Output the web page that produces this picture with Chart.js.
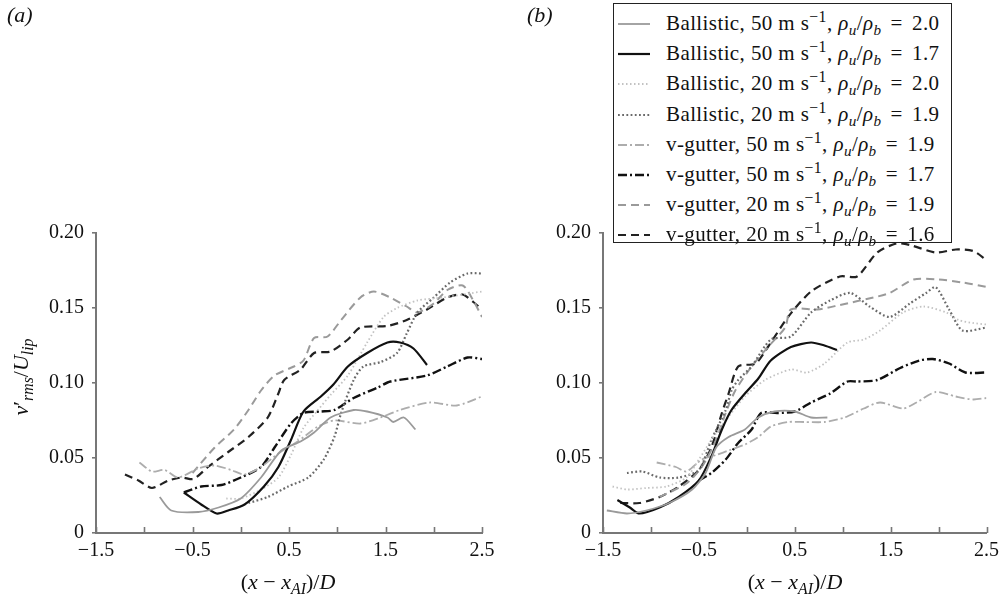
<!DOCTYPE html>
<html>
<head>
<meta charset="utf-8">
<script src="https://cdn.jsdelivr.net/npm/chart.js@4.4.1/dist/chart.umd.min.js"></script>
<style>
  body { margin: 0; background: #fff; font-family: "Liberation Serif", "Times New Roman", serif; }
  #page { position: relative; width: 1005px; height: 597px; overflow: hidden; }
  canvas { position: absolute; top: 0; }
  .lbl { position: absolute; font-family: "Liberation Serif", "Times New Roman", serif; color: #111; white-space: nowrap; }
  .lbl sub, #legend sub { font-size: 0.72em; vertical-align: -0.3em; line-height: 0; }
  .lbl sup, #legend sup { font-size: 0.75em; vertical-align: 0.5em; line-height: 0; }
  #legend { position: absolute; left: 613px; top: 3px; width: 337px; height: 238px; border: 1px solid #222;
            background: #fff; font-family: "Liberation Serif", "Times New Roman", serif; font-size: 21px;
            letter-spacing: 0.4px; color: #111; z-index: 5; }
  #legend .row { position: absolute; left: 0; height: 30px; line-height: 30px; white-space: nowrap; }
  #legend svg { position: absolute; left: 4px; top: 14px; }
  #legend span.t { position: absolute; left: 52px; top: 0; }
</style>
</head>
<body>
<div id="page">
  <canvas id="chartA" width="510" height="597" style="left:0px"></canvas>
  <canvas id="chartB" width="495" height="597" style="left:510px"></canvas>
  <div id="legend"></div>
  <div class="lbl" style="left:7px;top:2px;font-size:22px;"><i>(a)</i></div>
  <div class="lbl" style="left:527px;top:2px;font-size:22px;"><i>(b)</i></div>
  <div class="lbl" style="left:21px;top:377px;font-size:22px;transform:translate(-50%,-50%) rotate(-90deg);"><i>v</i>&prime;<sub><i>rms</i></sub>/<i>U</i><sub><i>lip</i></sub></div>
  <div class="lbl" style="left:288px;top:582px;font-size:22px;transform:translate(-50%,-50%);">(<i>x</i> &minus; <i>x</i><sub><i>AI</i></sub>)/<i>D</i></div>
  <div class="lbl" style="left:795px;top:582px;font-size:22px;transform:translate(-50%,-50%);">(<i>x</i> &minus; <i>x</i><sub><i>AI</i></sub>)/<i>D</i></div>
</div>
<script>
// series description (legend order)
const kinds = ["Ballistic", "Ballistic", "Ballistic", "Ballistic", "v-gutter", "v-gutter", "v-gutter", "v-gutter"];
const speeds = [50, 50, 20, 20, 50, 50, 20, 20];
const ratios = ["2.0", "1.7", "2.0", "1.9", "1.9", "1.7", "1.9", "1.6"];

const xTicks = [-1.5, -0.5, 0.5, 1.5, 2.5];
const yTicks = [0, 0.05, 0.10, 0.15, 0.20];

// panel (a): [x, y] pairs
const aBal50_20 = [[-0.84,0.024],[-0.72,0.015],[-0.44,0.014],[-0.23,0.017],[0.0,0.023],[0.21,0.037],[0.42,0.055],[0.62,0.061],[0.76,0.067],[0.93,0.077],[1.17,0.082],[1.31,0.081],[1.52,0.077],[1.58,0.074],[1.69,0.077],[1.81,0.069]];
const aBal50_17 = [[-0.59,0.027],[-0.41,0.019],[-0.25,0.013],[-0.13,0.015],[0.04,0.019],[0.24,0.031],[0.39,0.044],[0.52,0.062],[0.65,0.081],[0.83,0.091],[0.96,0.099],[1.11,0.111],[1.31,0.120],[1.52,0.127],[1.65,0.127],[1.79,0.123],[1.93,0.112]];
const aBal20_20 = [[-0.15,0.023],[0.0,0.023],[0.21,0.029],[0.39,0.037],[0.52,0.052],[0.65,0.070],[0.80,0.082],[0.93,0.092],[1.11,0.105],[1.31,0.127],[1.48,0.144],[1.62,0.150],[1.83,0.155],[2.1,0.157],[2.5,0.161]];
const aBal20_19 = [[0.08,0.020],[0.28,0.024],[0.49,0.031],[0.70,0.037],[0.86,0.049],[0.97,0.064],[1.04,0.080],[1.17,0.102],[1.27,0.111],[1.45,0.114],[1.62,0.120],[1.72,0.133],[1.83,0.147],[2.0,0.157],[2.17,0.167],[2.35,0.173],[2.5,0.173]];
const aVg50_19 = [[-1.05,0.047],[-0.92,0.041],[-0.79,0.042],[-0.65,0.037],[-0.44,0.043],[-0.27,0.045],[-0.1,0.042],[0.04,0.039],[0.21,0.044],[0.39,0.053],[0.59,0.061],[0.80,0.071],[0.97,0.075],[1.24,0.073],[1.45,0.077],[1.65,0.082],[1.96,0.087],[2.24,0.085],[2.5,0.091]];
const aVg50_17 = [[-0.59,0.027],[-0.41,0.031],[-0.2,0.032],[0.0,0.037],[0.21,0.044],[0.35,0.057],[0.52,0.073],[0.65,0.080],[0.83,0.081],[0.97,0.082],[1.17,0.090],[1.42,0.097],[1.55,0.101],[1.93,0.105],[2.14,0.111],[2.35,0.117],[2.5,0.116]];
const aVg20_19 = [[-0.5,0.040],[-0.27,0.057],[-0.07,0.069],[0.08,0.082],[0.21,0.095],[0.35,0.105],[0.55,0.111],[0.65,0.115],[0.76,0.130],[0.90,0.131],[1.04,0.142],[1.24,0.157],[1.38,0.161],[1.55,0.157],[1.72,0.151],[1.83,0.147],[2.0,0.153],[2.14,0.162],[2.3,0.165],[2.41,0.155],[2.5,0.144]];
const aVg20_16 = [[-1.2,0.039],[-1.06,0.035],[-0.92,0.030],[-0.75,0.035],[-0.61,0.037],[-0.49,0.036],[-0.34,0.044],[-0.13,0.054],[0.08,0.064],[0.28,0.077],[0.39,0.093],[0.45,0.102],[0.62,0.109],[0.76,0.120],[0.93,0.121],[1.11,0.129],[1.24,0.137],[1.52,0.138],[1.72,0.142],[1.93,0.149],[2.14,0.157],[2.3,0.159],[2.41,0.154],[2.5,0.149]];

// panel (b)
const bBal50_20 = [[-1.46,0.015],[-1.25,0.013],[-1.05,0.015],[-0.81,0.020],[-0.57,0.029],[-0.43,0.040],[-0.32,0.057],[-0.19,0.064],[-0.02,0.069],[0.12,0.077],[0.29,0.081],[0.5,0.081],[0.67,0.077],[0.84,0.077]];
const bBal50_17 = [[-1.35,0.022],[-1.22,0.017],[-1.12,0.013],[-0.91,0.017],[-0.71,0.024],[-0.5,0.035],[-0.37,0.051],[-0.26,0.069],[-0.16,0.082],[-0.02,0.093],[0.12,0.103],[0.25,0.115],[0.46,0.124],[0.67,0.127],[0.81,0.125],[0.94,0.122]];
const bBal20_20 = [[-1.40,0.031],[-1.25,0.029],[-1.05,0.030],[-0.84,0.031],[-0.63,0.037],[-0.5,0.049],[-0.37,0.062],[-0.22,0.075],[-0.02,0.091],[0.19,0.102],[0.46,0.109],[0.63,0.107],[0.81,0.113],[1.05,0.127],[1.22,0.129],[1.39,0.135],[1.63,0.147],[1.84,0.151],[2.08,0.147],[2.21,0.142],[2.36,0.140],[2.5,0.139]];
const bBal20_19 = [[-1.25,0.040],[-1.09,0.041],[-0.91,0.037],[-0.71,0.037],[-0.5,0.042],[-0.37,0.062],[-0.22,0.082],[-0.16,0.095],[-0.09,0.102],[0.05,0.111],[0.25,0.129],[0.46,0.131],[0.67,0.147],[0.87,0.155],[1.08,0.160],[1.28,0.151],[1.49,0.144],[1.70,0.153],[1.87,0.160],[1.97,0.164],[2.11,0.149],[2.25,0.135],[2.5,0.137]];
const bVg50_19 = [[-0.94,0.047],[-0.74,0.044],[-0.63,0.041],[-0.47,0.049],[-0.32,0.052],[-0.19,0.055],[-0.02,0.059],[0.12,0.064],[0.25,0.071],[0.43,0.074],[0.6,0.074],[0.81,0.074],[1.02,0.077],[1.22,0.083],[1.39,0.087],[1.63,0.083],[1.77,0.087],[1.97,0.094],[2.18,0.091],[2.36,0.089],[2.5,0.090]];
const bVg50_17 = [[-0.5,0.035],[-0.37,0.040],[-0.22,0.049],[-0.09,0.060],[0.05,0.069],[0.15,0.080],[0.32,0.080],[0.5,0.081],[0.67,0.087],[0.87,0.093],[1.05,0.101],[1.15,0.101],[1.36,0.102],[1.6,0.110],[1.8,0.115],[1.94,0.116],[2.11,0.113],[2.28,0.107],[2.5,0.107]];
const bVg20_19 = [[-0.91,0.024],[-0.63,0.033],[-0.47,0.044],[-0.32,0.062],[-0.22,0.080],[-0.12,0.095],[0.05,0.111],[0.22,0.124],[0.4,0.137],[0.46,0.149],[0.74,0.149],[0.97,0.152],[1.32,0.157],[1.49,0.160],[1.74,0.169],[2.0,0.169],[2.25,0.167],[2.5,0.164]];
const bVg20_16 = [[-1.32,0.020],[-1.12,0.020],[-0.91,0.024],[-0.71,0.031],[-0.5,0.042],[-0.37,0.057],[-0.26,0.080],[-0.19,0.093],[-0.09,0.111],[0.09,0.113],[0.22,0.124],[0.43,0.144],[0.67,0.161],[0.97,0.171],[1.15,0.171],[1.36,0.187],[1.56,0.193],[1.70,0.192],[1.97,0.187],[2.18,0.189],[2.36,0.188],[2.5,0.182]];

const panelA = [aBal50_20, aBal50_17, aBal20_20, aBal20_19, aVg50_19, aVg50_17, aVg20_19, aVg20_16];
const panelB = [bBal50_20, bBal50_17, bBal20_20, bBal20_19, bVg50_19, bVg50_17, bVg20_19, bVg20_16];

// line looks, same order as the legend
const colors = ["#9a9a9a", "#111111", "#c2c2c2", "#6a6a6a", "#adadad", "#111111", "#9a9a9a", "#222222"];
const widths = [1.8, 2.2, 1.8, 2.2, 1.8, 2.4, 2.0, 2.2];
const dashes = [[], [], [1.5, 2.5], [1.8, 2.4], [9, 3, 2, 3], [9, 3, 2, 3], [8, 5], [8, 5]];

const serif = "'Liberation Serif', 'Times New Roman', serif";
const fmt = v => (v < 0 ? "\u2212" : "") + Math.abs(v);

// inward tick marks on the x axis
const innerTicks = {
    id: "innerTicks",
    afterDraw(chart) {
        const sx = chart.scales.x;
        const c = chart.ctx;
        const bottom = chart.chartArea.bottom;
        c.save();
        c.strokeStyle = "#777";
        c.lineWidth = 1.6;
        sx.ticks.forEach(t => {
            const px = Math.round(sx.getPixelForValue(t.value)) + 0.5;
            c.beginPath();
            c.moveTo(px, bottom);
            c.lineTo(px, bottom - 6);
            c.stroke();
        });
        c.restore();
    }
};

function makeChart(id, series, padLeft, padRight) {
    const datasets = series.map((pts, i) => ({
        data: pts.map(p => ({x: p[0], y: p[1]})),
        borderColor: colors[i],
        borderWidth: widths[i],
        borderDash: dashes[i],
        pointRadius: 0,
        tension: 0.25,
        fill: false
    }));
    return new Chart(document.getElementById(id), {
        type: "line",
        data: {datasets},
        plugins: [innerTicks],
        options: {
            responsive: false,
            animation: false,
            events: [],
            layout: {padding: {left: padLeft, right: padRight, top: 233, bottom: 24}},
            plugins: {legend: {display: false}, tooltip: {enabled: false}},
            scales: {
                x: {
                    type: "linear", min: -1.5, max: 2.5,
                    afterFit(s) { s.height = 40; },
                    afterBuildTicks(s) {
                        s.ticks = [-1.5, -1, -0.5, 0, 0.5, 1, 1.5, 2, 2.5].map(v => ({value: v}));
                    },
                    border: {display: true, color: "#777", width: 2},
                    grid: {display: false, drawTicks: false},
                    ticks: {
                        padding: 6, color: "#111", maxRotation: 0, autoSkip: false,
                        font: {family: serif, size: 20},
                        callback: v => xTicks.includes(v) ? fmt(v) : ""
                    }
                },
                y: {
                    type: "linear", min: 0, max: 0.2,
                    afterFit(s) { s.width = 62; },
                    afterBuildTicks(s) { s.ticks = yTicks.map(v => ({value: v})); },
                    border: {display: true, color: "#777", width: 2},
                    grid: {drawOnChartArea: false, drawTicks: true, tickLength: 4, color: "#777", lineWidth: 1.6},
                    ticks: {
                        padding: 8, color: "#111",
                        font: {family: serif, size: 20},
                        callback: v => v === 0 ? "0" : v.toFixed(2)
                    }
                }
            }
        }
    });
}

makeChart("chartA", panelA, 34, 28);
makeChart("chartB", panelB, 31, 15);

// legend as html so the units and greek letters can be set properly
const legend = document.getElementById("legend");
kinds.forEach((k, i) => {
    const row = document.createElement("div");
    row.className = "row";
    row.style.top = (4 + i * 30.2) + "px";
    const dash = dashes[i].length ? dashes[i].join(" ") : "none";
    row.innerHTML =
        `<svg width="34" height="4"><line x1="0" y1="2" x2="32" y2="2" stroke="${colors[i]}" stroke-width="${widths[i]}" stroke-dasharray="${dash}"/></svg>` +
        `<span class="t">${k}, ${speeds[i]} m s<sup>&minus;1</sup>, <i>&rho;<sub>u</sub></i>/<i>&rho;<sub>b</sub></i>&thinsp;&thinsp;=&thinsp;&thinsp;${ratios[i]}</span>`;
    legend.appendChild(row);
});
</script>
</body>
</html>
